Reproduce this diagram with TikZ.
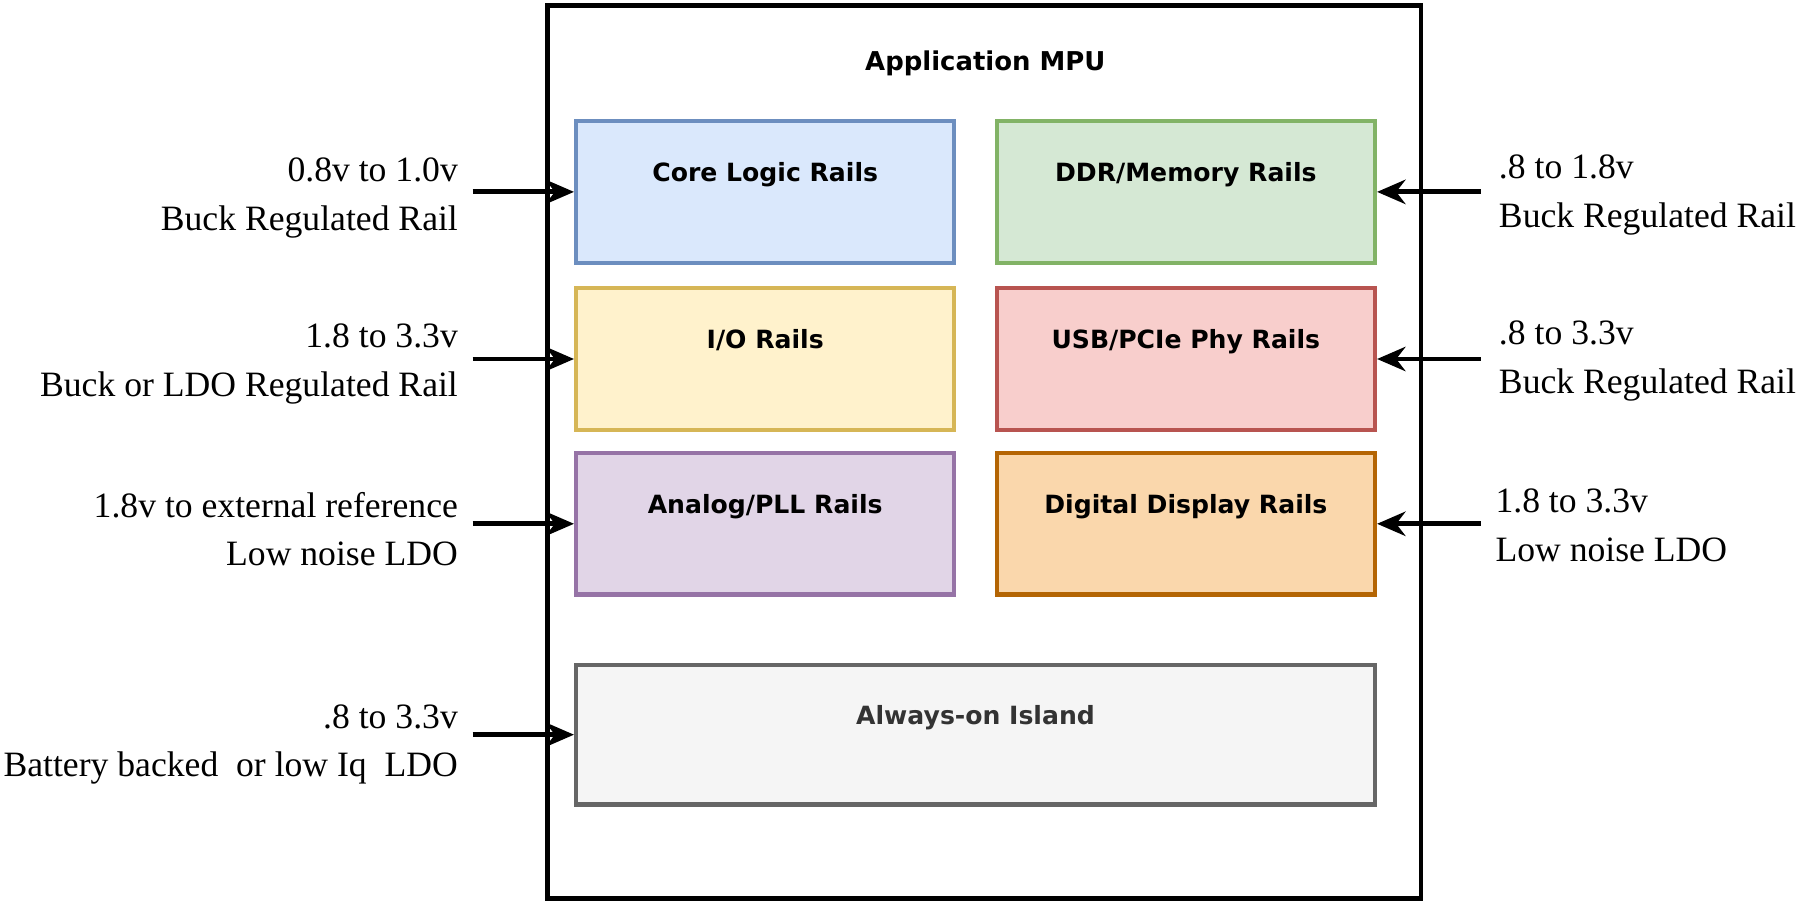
\documentclass[tikz,border=0pt]{standalone}
\usepackage{fontspec}
\setmainfont{Liberation Serif}
\newfontfamily\boxfont{DejaVu Sans}
\usetikzlibrary{arrows.meta}
\definecolor{bluefill}{HTML}{DAE8FC}\definecolor{blueline}{HTML}{6C8EBF}
\definecolor{greenfill}{HTML}{D5E8D4}\definecolor{greenline}{HTML}{82B366}
\definecolor{yellowfill}{HTML}{FFF2CC}\definecolor{yellowline}{HTML}{D6B656}
\definecolor{redfill}{HTML}{F8CECC}\definecolor{redline}{HTML}{B85450}
\definecolor{purplefill}{HTML}{E1D5E7}\definecolor{purpleline}{HTML}{9673A6}
\definecolor{orangefill}{HTML}{FAD7AC}\definecolor{orangeline}{HTML}{B46504}
\definecolor{grayfill}{HTML}{F5F5F5}\definecolor{grayline}{HTML}{666666}
\tikzset{
	rail/.style={draw, line width=1.1pt, minimum width=3.28cm, minimum height=1.23cm, text depth=0.35cm, font=\boxfont\bfseries\fontsize{6.2}{7.5}\selectfont},
	supply/.style={align=right, inner sep=0pt, font=\fontsize{8.8}{12}\selectfont},
	supplyr/.style={align=left, inner sep=0pt, font=\fontsize{8.8}{12}\selectfont},
	feed/.style={-{Stealth[length=7pt,width=6pt]}, line width=1.2pt}
}
\begin{document}
\begin{tikzpicture}
	\useasboundingbox (0,0) rectangle (15.68,-7.9);
	\node[draw, line width=1.2pt, minimum width=7.58cm, minimum height=7.75cm] (mpu) at (8.54,-3.925) {};
	\node[font=\boxfont\bfseries\fontsize{6.4}{8}\selectfont] (title) at (8.55,-0.55) {Application MPU};
	
	\node[rail, fill=bluefill, draw=blueline] (core) at (6.64,-1.665) {Core Logic Rails};
	\node[rail, fill=greenfill, draw=greenline] (ddr) at (10.29,-1.665) {DDR/Memory Rails};
	\node[rail, fill=yellowfill, draw=yellowline] (io) at (6.64,-3.115) {I/O Rails};
	\node[rail, fill=redfill, draw=redline] (usb) at (10.29,-3.115) {USB/PCIe Phy Rails};
	\node[rail, fill=purplefill, draw=purpleline] (pll) at (6.64,-4.545) {Analog/PLL Rails};
	\node[rail, fill=orangefill, draw=orangeline] (disp) at (10.29,-4.545) {Digital Display Rails};
	\node[rail, fill=grayfill, draw=grayline, text=black!80, minimum width=6.93cm, minimum height=1.21cm] (island) at (8.465,-6.375) {Always-on Island};
	
	\node[supply, anchor=east] (corein) at (3.98,-1.72) {0.8v to 1.0v\\Buck Regulated Rail};
	\node[supply, anchor=east] (ioin) at (3.98,-3.16) {1.8 to 3.3v\\Buck or LDO Regulated Rail};
	\node[supply, anchor=east] (pllin) at (3.98,-4.59) {1.8v to external reference\\Low noise LDO};
	\node[supply, anchor=east] (islandin) at (3.98,-6.46) {.8 to 3.3v\\Battery backed\ \ or low Iq\ \ LDO};
	\node[supplyr, anchor=west] (ddrin) at (13.0,-1.69) {.8 to 1.8v\\Buck Regulated Rail};
	\node[supplyr, anchor=west] (usbin) at (13.0,-3.13) {.8 to 3.3v\\Buck Regulated Rail};
	\node[supplyr, anchor=west] (dispin) at (12.97,-4.56) {1.8 to 3.3v\\Low noise LDO};
	
	\draw[feed] (corein.east |- core.west) ++(0.12,0) -- (core.west);
	\draw[feed] (ioin.east |- io.west) ++(0.12,0) -- (io.west);
	\draw[feed] (pllin.east |- pll.west) ++(0.12,0) -- (pll.west);
	\draw[feed] (islandin.east |- island.west) ++(0.12,0) -- (island.west);
	\draw[feed] (ddrin.west |- ddr.east) ++(-0.15,0) -- (ddr.east);
	\draw[feed] (usbin.west |- usb.east) ++(-0.15,0) -- (usb.east);
	\draw[feed] (dispin.west |- disp.east) ++(-0.12,0) -- (disp.east);
\end{tikzpicture}
\end{document}
